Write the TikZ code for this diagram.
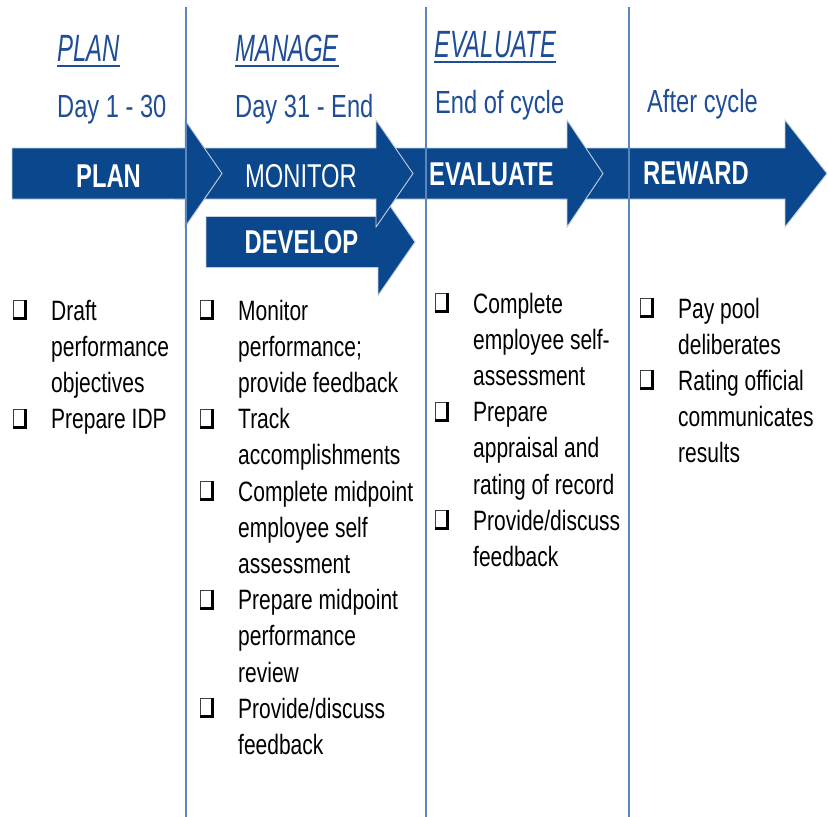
\documentclass[tikz,border=0pt]{standalone}
\usepackage{fontspec}
\usepackage{tikz}
\setmainfont{Liberation Sans}
\newfontfamily\bodyfont[FakeStretch=0.75]{Liberation Sans}
\newfontfamily\dayfont[FakeStretch=0.74]{Liberation Sans}
\newfontfamily\headfont[FakeStretch=0.63]{Liberation Sans}
\newfontfamily\arrowfont[FakeStretch=0.72]{Liberation Sans}
\definecolor{pmblue}{HTML}{0B478C}
\definecolor{hdblue}{HTML}{1F4E96}
\definecolor{divblue}{HTML}{5A86BE}
\definecolor{seam}{HTML}{C4CFDE}
\newcommand{\chkbox}{\begin{picture}(14,20)
  \put(0,2){\color{darkgray}\rule{1pt}{18pt}}
  \put(0,19){\color{darkgray}\rule{12pt}{1pt}}
  \put(11,0){\rule{2.5pt}{20pt}}
  \put(0,0){\rule{13.5pt}{3pt}}
\end{picture}}
\newcommand{\bx}{\makebox[38pt][l]{\chkbox}}
% big arrow: tail x, head base x, tip x, centre y
\newcommand{\bigarrow}[4]{\filldraw[arrowpart] (#1,#4-25.5) -- (#2,#4-25.5) -- (#2,#4-53.5) -- (#3,#4) -- (#2,#4+53.5) -- (#2,#4+25.5) -- (#1,#4+25.5) -- cycle;}
\tikzset{
  arrowpart/.style={fill=pmblue, draw=seam, line width=0.9pt, line join=miter},
  phase/.style={anchor=base west, inner sep=0pt, text=hdblue, font=\headfont\itshape\fontsize{38}{40}\selectfont},
  when/.style={anchor=base west, inner sep=0pt, text=hdblue, font=\dayfont\fontsize{32}{36}\selectfont},
  steplabel/.style={anchor=base, inner sep=0pt, text=white, font=\arrowfont\bfseries\fontsize{33}{36}\selectfont},
  tasks/.style={anchor=base west, inner sep=0pt, font=\bodyfont\fontsize{28}{36.2}\selectfont},
  divider/.style={draw=divblue, line width=1.3pt},
  uline/.style={draw=hdblue, line width=1.4pt}
}

\begin{document}
\begin{tikzpicture}[x=1pt, y=-1pt]
	\useasboundingbox (0,0) rectangle (828,817);
	% headings
	\node[phase] (hplan) at (57,61) {PLAN};
	\node[phase] (hmanage) at (235,61) {MANAGE};
	\node[phase] (heval) at (434,57) {EVALUATE};
	\draw[uline] ([yshift=-5pt]hplan.base west) -- ([yshift=-5pt]hplan.base east);
	\draw[uline] ([yshift=-5pt]hmanage.base west) -- ([yshift=-5pt]hmanage.base east);
	\draw[uline] ([yshift=-5pt]heval.base west) -- ([yshift=-5pt]heval.base east);
	\node[when] (dplan) at (57,117) {Day 1 - 30};
	\node[when] (dmanage) at (235,117) {Day 31 - End};
	\node[when] (deval) at (435,113) {End of cycle};
	\node[when] (dreward) at (647,112) {After cycle};
	% arrows, back to front
	\bigarrow{560}{785}{827}{173.5}
	\bigarrow{370}{567}{603}{173.5}
	\bigarrow{206}{378}{415}{242}
	\bigarrow{175}{376}{413}{173.5}
	\bigarrow{12}{185}{222}{173.5}
	\node[steplabel] (aplan) at (108.5,187) {PLAN};
	\node[steplabel, font=\arrowfont\fontsize{33}{36}\selectfont] (amonitor) at (301,187) {MONITOR};
	\node[steplabel] (aeval) at (491.5,185) {EVALUATE};
	\node[steplabel] (areward) at (696,184) {REWARD};
	\node[steplabel] (adevelop) at (301.5,253) {DEVELOP};
	% task lists
	\node[tasks] (lplan) at (13,320) {\begin{tabular}[t]{@{}l@{}l@{}}
		\bx & Draft\\ & performance\\ & objectives\\
		\bx & Prepare IDP
	\end{tabular}};
	\node[tasks] (lmanage) at (200,320) {\begin{tabular}[t]{@{}l@{}l@{}}
		\bx & Monitor\\ & performance;\\ & provide feedback\\
		\bx & Track\\ & accomplishments\\
		\bx & Complete midpoint\\ & employee self\\ & assessment\\
		\bx & Prepare midpoint\\ & performance\\ & review\\
		\bx & Provide/discuss\\ & feedback
	\end{tabular}};
	\node[tasks] (leval) at (435,313) {\begin{tabular}[t]{@{}l@{}l@{}}
		\bx & Complete\\ & employee self-\\ & assessment\\
		\bx & Prepare\\ & appraisal and\\ & rating of record\\
		\bx & Provide/discuss\\ & feedback
	\end{tabular}};
	\node[tasks] (lreward) at (640,318) {\begin{tabular}[t]{@{}l@{}l@{}}
		\bx & Pay pool\\ & deliberates\\
		\bx & Rating official\\ & communicates\\ & results
	\end{tabular}};
	% column dividers
	\coordinate (d1t) at (186,7);
	\coordinate (d1b) at (186,817);
	\coordinate (d2t) at (426,7);
	\coordinate (d2b) at (426,817);
	\coordinate (d3t) at (629,7);
	\coordinate (d3b) at (629,817);
	\draw[divider] (d1t) -- (d1b);
	\draw[divider] (d2t) -- (d2b);
	\draw[divider] (d3t) -- (d3b);
\end{tikzpicture}
\end{document}
